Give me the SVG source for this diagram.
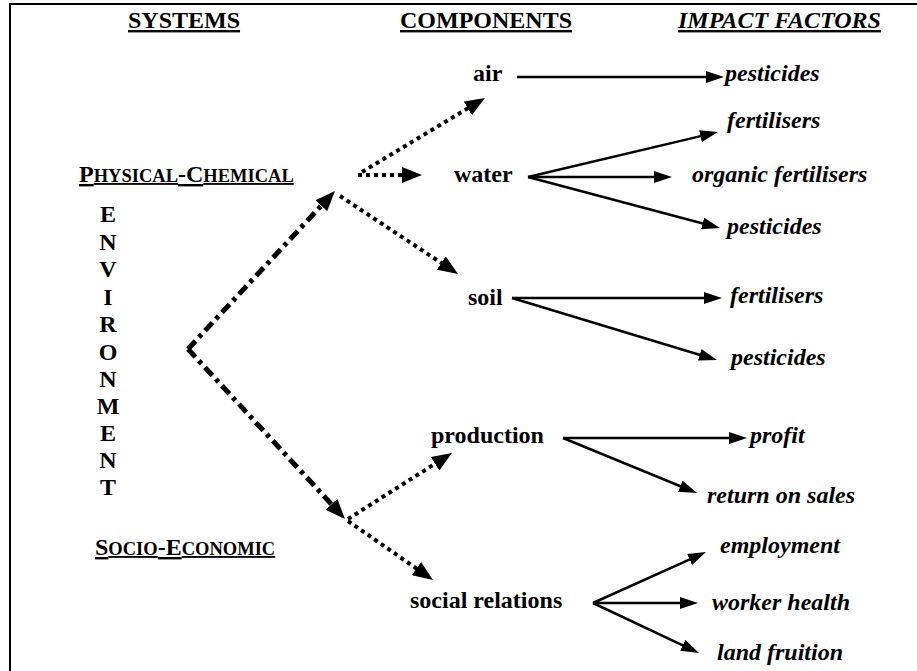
<svg xmlns="http://www.w3.org/2000/svg" width="917" height="671" viewBox="0 0 917 671" font-family="'Liberation Serif', 'Times New Roman', serif">
<defs>
<style>
text{font-family:'Liberation Serif',serif;font-weight:bold;fill:#000}
.h{font-size:24px;text-decoration:underline}
.c{font-size:24px}
.f{font-size:24px;font-style:italic}
.v{font-size:24px;text-anchor:middle}
.sc{font-size:18.5px}
.solid{stroke:#000;stroke-width:2.5;fill:none;marker-end:url(#ah)}
.dot{stroke:#000;stroke-width:4;fill:none;stroke-dasharray:4 4;marker-end:url(#ahb)}
.dd{stroke:#000;stroke-width:5;fill:none;stroke-dasharray:11 5 4 5;marker-end:url(#ahb)}
</style>
<marker id="ah" markerUnits="userSpaceOnUse" markerWidth="18" markerHeight="12" refX="10" refY="6" orient="auto" viewBox="0 0 18 12"><path d="M0,0L18,6L0,12z" fill="#000"/></marker>
<marker id="ahb" markerUnits="userSpaceOnUse" markerWidth="20" markerHeight="16" refX="12" refY="8" orient="auto" viewBox="0 0 20 16"><path d="M0,0L20,8L0,16z" fill="#000"/></marker>
</defs>
<rect width="917" height="671" fill="#fff"/>
<path d="M10,671L10,4L917,4" stroke="#000" stroke-width="2" fill="none"/>

<g id="headers">
<text class="h" x="128" y="28">SYSTEMS</text>
<text class="h" x="400" y="28">COMPONENTS</text>
<text class="h" x="678" y="28" font-style="italic">IMPACT FACTORS</text>
</g>

<g id="physical-chemical"><text class="h" x="79" y="182">P<tspan class="sc">HYSICAL</tspan>-C<tspan class="sc">HEMICAL</tspan></text></g>
<g id="socio-economic"><text class="h" x="95" y="555">S<tspan class="sc">OCIO</tspan>-E<tspan class="sc">CONOMIC</tspan></text></g>
<g id="environment">
<text class="v" x="108" y="222">E</text>
<text class="v" x="108" y="250">N</text>
<text class="v" x="108" y="277">V</text>
<text class="v" x="108" y="305">I</text>
<text class="v" x="108" y="332">R</text>
<text class="v" x="108" y="360">O</text>
<text class="v" x="108" y="387">N</text>
<text class="v" x="108" y="414">M</text>
<text class="v" x="108" y="441">E</text>
<text class="v" x="108" y="468">N</text>
<text class="v" x="108" y="495">T</text>
</g>

<g id="air"><text class="c" x="473" y="81">air</text></g>
<g id="water"><text class="c" x="454" y="182">water</text></g>
<g id="soil"><text class="c" x="468" y="305">soil</text></g>
<g id="production"><text class="c" x="431" y="443">production</text></g>
<g id="social-relations"><text class="c" x="410" y="608">social relations</text></g>

<g id="f-air-pesticides"><text class="f" x="725" y="81">pesticides</text></g>
<g id="f-water-fertilisers"><text class="f" x="727" y="128">fertilisers</text></g>
<g id="f-water-organic"><text class="f" x="692" y="182">organic fertilisers</text></g>
<g id="f-water-pesticides"><text class="f" x="727" y="234">pesticides</text></g>
<g id="f-soil-fertilisers"><text class="f" x="730" y="303">fertilisers</text></g>
<g id="f-soil-pesticides"><text class="f" x="731" y="365">pesticides</text></g>
<g id="f-profit"><text class="f" x="750" y="443">profit</text></g>
<g id="f-return"><text class="f" x="707" y="503">return on sales</text></g>
<g id="f-employment"><text class="f" x="720" y="553">employment</text></g>
<g id="f-worker"><text class="f" x="712" y="610">worker health</text></g>
<g id="f-land"><text class="f" x="717" y="660">land fruition</text></g>

<g id="connectors">
<line class="solid" x1="517" y1="77" x2="716" y2="77"/>
<line class="solid" x1="528" y1="177" x2="710.2" y2="133.9"/>
<line class="solid" x1="528" y1="177" x2="664" y2="177"/>
<line class="solid" x1="528" y1="177" x2="712.3" y2="226"/>
<line class="solid" x1="512" y1="298" x2="714" y2="298"/>
<line class="solid" x1="512" y1="298" x2="709.3" y2="357.7"/>
<line class="solid" x1="563" y1="438" x2="739" y2="438"/>
<line class="solid" x1="563" y1="438" x2="689.6" y2="490"/>
<line class="solid" x1="593" y1="603" x2="698.7" y2="555.3"/>
<line class="solid" x1="593" y1="603" x2="690" y2="603"/>
<line class="solid" x1="593" y1="603" x2="691.8" y2="649.6"/>
<line class="dd" x1="188" y1="349" x2="329.5" y2="196.9"/>
<line class="dd" x1="188" y1="349" x2="339.6" y2="513.1"/>
<line class="dot" x1="362" y1="172" x2="478.1" y2="102.1"/>
<line class="dot" x1="358" y1="175" x2="414" y2="175"/>
<line class="dot" x1="340" y1="196" x2="451.3" y2="269.6"/>
<line class="dot" x1="348" y1="519" x2="445.2" y2="457.3"/>
<line class="dot" x1="348" y1="521" x2="426.4" y2="575.4"/>
</g>
</svg>
